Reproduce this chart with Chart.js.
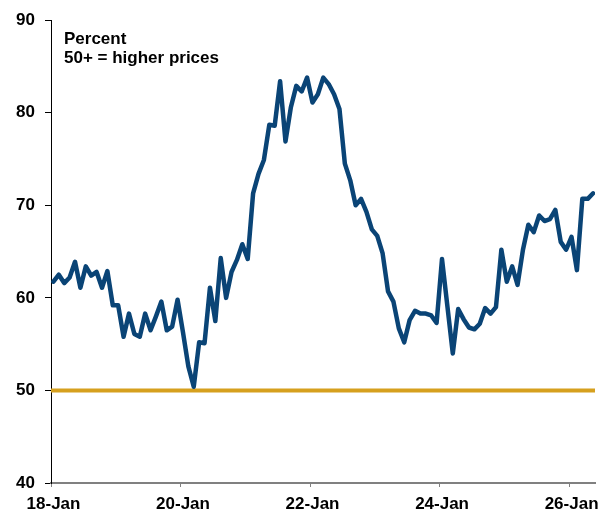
<!DOCTYPE html>
<html>
<head>
<meta charset="utf-8">
<style>
  html, body { margin: 0; padding: 0; background: #ffffff; }
  #wrap { width: 612px; height: 511px; position: relative; }
</style>
<script src="https://cdn.jsdelivr.net/npm/chart.js@4/dist/chart.umd.min.js"></script>
</head>
<body>
<div id="wrap"><canvas id="c" width="612" height="511"></canvas></div>
<script>
// ---- Data ----
const startYear = 2018;
const months = [];
for (let i = 0; i < 101; i++) {
  const y = startYear + Math.floor(i / 12), m = (i % 12) + 1;
  months.push(y + '-' + String(m).padStart(2, '0'));
}
const values = [
  61.75, 62.5, 61.6, 62.2, 63.9, 61.1, 63.4, 62.4, 62.8, 61.1, 62.9, 59.2,
  59.2, 55.8, 58.3, 56.1, 55.8, 58.3, 56.5, 58.0, 59.6, 56.5, 56.9, 59.8,
  56.3, 52.6, 50.4, 55.2, 55.1, 61.1, 57.5, 64.3, 60.0, 62.8, 64.1, 65.8,
  64.2, 71.3, 73.4, 74.9, 78.7, 78.6, 83.4, 76.9, 80.6, 82.9, 82.3, 83.8,
  81.1, 82.0, 83.8, 83.1, 82.0, 80.4, 74.5, 72.7, 70.0, 70.7, 69.3, 67.4,
  66.7, 64.8, 60.7, 59.6, 56.7, 55.2, 57.6, 58.6, 58.3, 58.3, 58.1, 57.3,
  64.2, 59.1, 54.0, 58.8, 57.7, 56.8, 56.6, 57.2, 58.9, 58.3, 59.0, 65.2,
  61.75, 63.4, 61.4, 65.2, 67.9, 67.1, 68.9, 68.3, 68.5, 69.5, 66.05, 65.2,
  66.6, 63.0, 70.7, 70.7, 71.3
];
const threshold = 50;
const xTickMonths = ['2018-01', '2020-01', '2022-01', '2024-01', '2026-01'];
const xTickLabels = ['18-Jan', '20-Jan', '22-Jan', '24-Jan', '26-Jan'];
const yTickValues = [40, 50, 60, 70, 80, 90];
const noteLines = ['Percent', '50+ = higher prices'];

// ---- Chart ----
const xMin = 0, xMax = 100.8, midMonth = 0.45;
const FONT = { family: '"Liberation Sans", Arial, sans-serif', size: 17, weight: 'bold' };

const notePlugin = {
  id: 'note',
  afterDraw(chart) {
    const ctx = chart.ctx;
    ctx.save();
    ctx.font = 'bold 17px "Liberation Sans", Arial, sans-serif';
    ctx.fillStyle = '#000';
    ctx.textBaseline = 'alphabetic';
    ctx.textAlign = 'left';
    ctx.fillText(noteLines[0], 64, 44);
    ctx.fillText(noteLines[1], 64, 63);
    ctx.restore();
  }
};

new Chart(document.getElementById('c'), {
  type: 'line',
  data: {
    datasets: [
      {
        data: values.map((v, i) => ({ x: i + midMonth, y: v })),
        borderColor: '#0a4476',
        borderWidth: 4.5,
        pointRadius: 0,
        tension: 0,
        borderJoinStyle: 'round',
        borderCapStyle: 'round',
        order: 0
      },
      {
        data: [{ x: xMin, y: threshold }, { x: xMax, y: threshold }],
        borderColor: '#d6a01e',
        borderWidth: 4,
        pointRadius: 0,
        tension: 0,
        order: 1
      }
    ]
  },
  options: {
    responsive: false,
    animation: false,
    devicePixelRatio: 1,
    layout: { padding: { top: 20, right: 17, left: 0, bottom: 0 } },
    plugins: { legend: { display: false }, tooltip: { enabled: false }, title: { display: false } },
    scales: {
      x: {
        type: 'linear',
        min: xMin,
        max: xMax,
        afterBuildTicks: s => { s.ticks = xTickMonths.map(m => ({ value: months.indexOf(m) })); },
        afterFit: s => { s.height = 28; },
        ticks: {
          autoSkip: false,
          maxRotation: 0,
          padding: 7,
          labelOffset: 2.5,
          color: '#000',
          font: FONT,
          callback: v => {
            const k = xTickMonths.indexOf(months[Math.round(v)]);
            return k >= 0 ? xTickLabels[k] : '';
          }
        },
        grid: { drawOnChartArea: false, drawTicks: true, tickLength: 4, color: '#808080', lineWidth: 1 },
        border: { display: true, color: '#808080', width: 2 }
      },
      y: {
        min: 40,
        max: 90,
        afterBuildTicks: s => { s.ticks = yTickValues.map(v => ({ value: v })); },
        afterFit: s => { s.width = 51; },
        ticks: { padding: 10, color: '#000', font: FONT },
        grid: { drawOnChartArea: false, drawTicks: true, tickLength: 6, color: '#000', lineWidth: 1 },
        border: { display: true, color: '#000', width: 1 }
      }
    }
  },
  plugins: [notePlugin]
});
</script>
</body>
</html>
